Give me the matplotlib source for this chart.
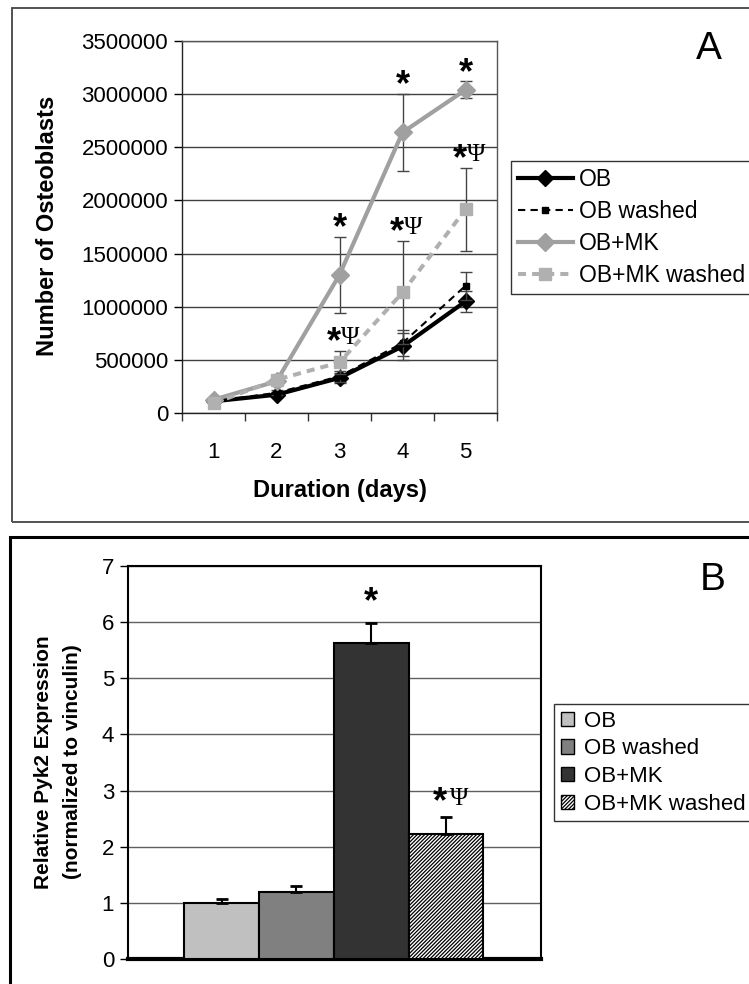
import matplotlib.pyplot as plt
from matplotlib.patches import Rectangle, Patch
from matplotlib.lines import Line2D

plt.rcParams['font.family'] = ['Liberation Sans', 'DejaVu Sans']
plt.rcParams['hatch.linewidth'] = 0.9

# Panel A: osteoblast counts over time
days = [1, 2, 3, 4, 5]
ob = [110000, 172000, 330000, 627000, 1050000]
ob_err = [15000, 25000, 50000, 130000, 100000]
ob_washed = [110000, 190000, 345000, 658000, 1197000]
ob_washed_err = [15000, 25000, 50000, 120000, 130000]
ob_mk = [125000, 298000, 1300000, 2640000, 3040000]
ob_mk_err = [20000, 30000, 355000, 365000, 80000]
ob_mk_washed = [90000, 313000, 476000, 1134000, 1915000]
ob_mk_washed_err = [15000, 30000, 110000, 485000, 390000]
star_days = [3, 4, 5]          # "*" over OB+MK
star_psi_days = [3, 4, 5]      # "*Ψ" over OB+MK washed
yticks_a = [0, 500000, 1000000, 1500000, 2000000, 2500000, 3000000, 3500000]

# Panel B: Pyk2 expression
groups = ['OB', 'OB washed', 'OB+MK', 'OB+MK washed']
pyk2 = [1.0, 1.19, 5.63, 2.22]
pyk2_err = [0.07, 0.11, 0.35, 0.31]
bar_colors = ['#c0c0c0', '#808080', '#333333', 'white']
bar_hatch = [None, None, None, '/////////']

W, H = 749, 984
fig = plt.figure(figsize=(W / 100, H / 100), dpi=100)

def box(x0, y0, x1, y1):
    # pixel box (top-left origin) -> figure fraction rect
    return [x0 / W, 1 - y1 / H, (x1 - x0) / W, (y1 - y0) / H]

# panel frames
fig.patches.append(Rectangle((12 / W, 1 - 522 / H), 760 / W, 514 / H, transform=fig.transFigure,
                             fill=False, edgecolor='#444444', lw=1.3))
fig.patches.append(Rectangle((10 / W, 1 - 990 / H), 760 / W, 453 / H, transform=fig.transFigure,
                             fill=False, edgecolor='black', lw=2.2))

serif = ['Liberation Serif', 'DejaVu Serif']

# ---------------- Panel A ----------------
axA = fig.add_axes(box(182, 41, 497, 413))
ecol = '#454545'
axA.errorbar(days, ob, yerr=ob_err, color='black', lw=3, marker='D', ms=8,
             ecolor=ecol, elinewidth=1, capsize=4, zorder=3)
axA.errorbar(days, ob_washed, yerr=ob_washed_err, color='black', lw=1.5, ls=(0, (3.5, 2.5)),
             marker='s', ms=5, ecolor=ecol, elinewidth=1, capsize=4, zorder=4)
axA.errorbar(days, ob_mk, yerr=ob_mk_err, color='#a0a0a0', lw=3, marker='D', ms=9,
             ecolor=ecol, elinewidth=1, capsize=4, zorder=5)
axA.errorbar(days, ob_mk_washed, yerr=ob_mk_washed_err, color='#b0b0b0', lw=2.9, ls=(0, (2, 1.5)),
             marker='s', ms=8, ecolor=ecol, elinewidth=1, capsize=4, zorder=6)

for d in star_days:
    i = days.index(d)
    axA.text(d, ob_mk[i] + ob_mk_err[i] - 90000, '*', fontsize=26, fontweight='bold',
             ha='center', va='bottom', zorder=7)
for d in star_psi_days:
    i = days.index(d)
    top = ob_mk_washed[i] + ob_mk_washed_err[i]
    axA.text(d + 0.02, top - 90000, '*', fontsize=26, fontweight='bold', ha='right', va='bottom', zorder=7)
    axA.text(d + 0.03, top + 20000, 'Ψ', fontsize=18, family=serif,
             ha='left', va='bottom', zorder=7)

axA.set_xlim(0.5, 5.5)
axA.set_ylim(0, 3500000)
axA.set_yticks(yticks_a)
axA.set_yticklabels([str(v) for v in yticks_a])
axA.set_xticks(days)
axA.set_xticks([0.5, 1.5, 2.5, 3.5, 4.5, 5.5], minor=True)
axA.tick_params(axis='x', which='major', length=0, pad=21, labelsize=16)
axA.tick_params(axis='x', which='minor', length=6, width=1, direction='out', color='#333333')
axA.tick_params(axis='y', length=6, width=1, direction='out', pad=4, labelsize=16)
axA.grid(axis='y', color='#404040', lw=1)
axA.set_axisbelow(True)
for s in ['top', 'right']:
    axA.spines[s].set_color('#555555')
    axA.spines[s].set_linewidth(1)
for s in ['left', 'bottom']:
    axA.spines[s].set_color('#222222')
    axA.spines[s].set_linewidth(1)

fig.text(340 / W, 1 - 490 / H, 'Duration (days)', fontsize=17, fontweight='bold', ha='center', va='center')
fig.text(48 / W, 1 - 226 / H, 'Number of Osteoblasts', fontsize=17, fontweight='bold',
         rotation=90, ha='center', va='center')
fig.text(709 / W, 1 - 49 / H, 'A', fontsize=28, ha='center', va='center')

handlesA = [
    Line2D([], [], color='black', lw=3, marker='D', ms=8),
    Line2D([], [], color='black', lw=1.5, ls=(0, (3.5, 2.5)), marker='s', ms=5),
    Line2D([], [], color='#a0a0a0', lw=3, marker='D', ms=9),
    Line2D([], [], color='#b0b0b0', lw=2.9, ls=(0, (2, 1.5)), marker='s', ms=8),
]
legA = fig.legend(handlesA, groups, loc='upper left', bbox_to_anchor=(511 / W, 1 - 161 / H),
                  fontsize=16.5, frameon=True, fancybox=False, edgecolor='#333333', framealpha=1,
                  handlelength=2.4, handletextpad=0.25, borderpad=0.3, labelspacing=0.4,
                  borderaxespad=0)
legA.get_frame().set_linewidth(1)

# ---------------- Panel B ----------------
axB = fig.add_axes(box(128, 566, 541, 959))
xb = list(range(len(groups)))
axB.bar(xb, pyk2, width=1.0, color=bar_colors, edgecolor='black', lw=1.5, hatch=bar_hatch, zorder=3)
axB.errorbar(xb, pyk2, yerr=[[0] * len(pyk2), pyk2_err], fmt='none', ecolor='black',
             elinewidth=1.5, capsize=4, capthick=2, zorder=4)
axB.text(xb[2], pyk2[2] + pyk2_err[2] + 0.05, '*', fontsize=26, fontweight='bold', ha='center', va='bottom')
axB.text(xb[3] + 0.02, pyk2[3] + pyk2_err[3] - 0.05, '*', fontsize=26, fontweight='bold', ha='right', va='bottom')
axB.text(xb[3] + 0.05, pyk2[3] + pyk2_err[3] + 0.13, 'Ψ', fontsize=18,
         family=serif, ha='left', va='bottom')

axB.set_xlim(-1.25, 4.27)
axB.set_ylim(0, 7)
axB.set_yticks(range(8))
axB.set_xticks([])
axB.tick_params(axis='y', length=6, width=1, direction='out', pad=4, labelsize=16)
axB.grid(axis='y', color='#606060', lw=1)
axB.set_axisbelow(True)
for s in ['top', 'right', 'left']:
    axB.spines[s].set_linewidth(1.5)
axB.spines['bottom'].set_linewidth(3)

fig.text(58 / W, 1 - 762 / H, 'Relative Pyk2 Expression\n(normalized to vinculin)', fontsize=15,
         fontweight='bold', rotation=90, ha='center', va='center', linespacing=1.65)
fig.text(713 / W, 1 - 580 / H, 'B', fontsize=28, ha='center', va='center')

handlesB = [Patch(facecolor=c, edgecolor='black', hatch=h, lw=1) for c, h in zip(bar_colors, bar_hatch)]
legB = fig.legend(handlesB, groups, loc='upper left', bbox_to_anchor=(554 / W, 1 - 704 / H),
                  fontsize=16, frameon=True, fancybox=False, edgecolor='#333333', framealpha=1,
                  handlelength=0.6, handleheight=0.6, handletextpad=0.45, borderpad=0.3,
                  labelspacing=0.3, borderaxespad=0)
legB.get_frame().set_linewidth(1)

fig.savefig('out.png', dpi=100)
